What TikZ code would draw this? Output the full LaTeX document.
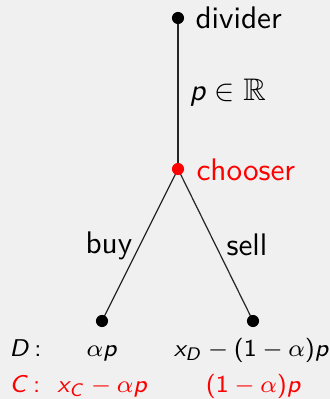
\documentclass[tikz,border=0pt]{standalone}
\usepackage{amssymb}
\DeclareSymbolFont{operators}{OT1}{cmss}{m}{n}
\DeclareSymbolFont{sfletters}{OT1}{cmss}{m}{sl}
\DeclareMathSymbol{p}{\mathalpha}{sfletters}{`p}
\DeclareMathSymbol{x}{\mathalpha}{sfletters}{`x}
\DeclareMathSymbol{D}{\mathalpha}{sfletters}{`D}
\DeclareMathSymbol{C}{\mathalpha}{sfletters}{`C}
\definecolor{bg}{HTML}{F0F0F0}
\definecolor{myred}{HTML}{FF0000}
\tikzset{
  dot/.style={circle,fill=black,inner sep=0pt,minimum size=4pt},
  reddot/.style={dot,fill=myred},
  edge/.style={line width=0.4pt,draw=black!85},
  lbl/.style={inner sep=0pt,font=\fontsize{10.3}{12}\sffamily},
  pay/.style={inner sep=0pt,font=\fontsize{8.3}{10}\sffamily},
}
\begin{document}
\begin{tikzpicture}[x=0.33pt,y=-0.33pt]
\fill[bg] (0,0) rectangle (330,399);
\useasboundingbox (0,0) rectangle (330,399);
\coordinate (d) at (178,18);
\coordinate (c) at (178,169);
\coordinate (l) at (102,321);
\coordinate (r) at (253,321);
\draw[edge] (d) -- (c);
\draw[edge] (c) -- (l);
\draw[edge] (c) -- (r);
\node[dot] (dd) at (d) {};
\node[reddot] (cc) at (c) {};
\node[dot] (ll) at (l) {};
\node[dot] (rr) at (r) {};
\node[lbl,anchor=base west] (divider) at (195,28) {divider};
\node[lbl,anchor=base west,text=myred] (chooser) at (196,180.5) {chooser};
\node[lbl,anchor=base west] (price) at (189,100.5) {$p\in\mathbb{R}$};
\node[lbl,anchor=base west] (buy) at (85,253.5) {buy};
\node[lbl,anchor=base west] (sell) at (226,255) {sell};
\node[pay,anchor=base west] (Dlab) at (9,356) {$D\,{:}$};
\node[pay,anchor=base west,text=myred] (Clab) at (9,392.5) {$C\,{:}$};
\node[pay,anchor=base] (Dl) at (102,356) {$\alpha p$};
\node[pay,anchor=base] (Dr) at (251.5,356) {$x_D-(1-\alpha)p$};
\node[pay,anchor=base,text=myred] (Cl) at (102.5,392.5) {$x_C-\alpha p$};
\node[pay,anchor=base,text=myred] (Cr) at (253.5,392.5) {$(1-\alpha)p$};
\end{tikzpicture}
\end{document}
